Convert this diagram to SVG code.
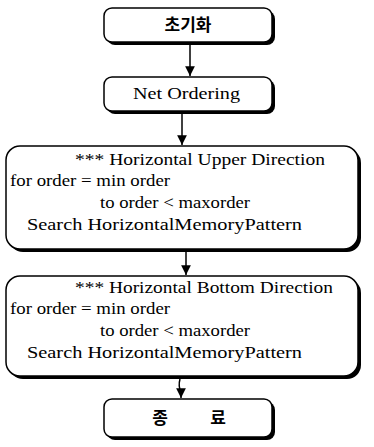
<svg xmlns="http://www.w3.org/2000/svg" width="374" height="447" viewBox="0 0 374 447">
<style>
.sh{fill:#000}
.bx{fill:#fff;stroke:#000;stroke-width:1.5}
.t{font-family:"Liberation Serif","Times New Roman",serif;font-size:16px;fill:#000}
.k{font-family:"Noto Sans CJK KR","Noto Sans",sans-serif;font-size:17px;font-weight:bold;fill:#000}
.c{fill:none;stroke:#000;stroke-width:1.5}
</style>
<defs>
<marker id="ah" viewBox="0 0 10 10" refX="10" refY="5" markerWidth="6.5" markerHeight="6.5" orient="auto">
<path d="M0,0 L10,5 L0,10 z" fill="#000"/>
</marker>
</defs>
<rect width="374" height="447" fill="#fff"/>
<g id="connectors">
<path class="c" d="M190,45 L190,76" marker-end="url(#ah)"/>
<path class="c" d="M182,114 L182,145" marker-end="url(#ah)"/>
<path class="c" d="M186,252 L186,275" marker-end="url(#ah)"/>
<path class="c" d="M180,379 Q178,386 181,392 L181,398" marker-end="url(#ah)"/>
</g>
<g id="init">
<rect class="sh" x="107" y="11" width="168" height="34" rx="8"/>
<rect class="bx" x="104" y="8" width="168" height="34" rx="8"/>
<text class="k" x="188" y="31" text-anchor="middle">초기화</text>
</g>
<g id="net-ordering">
<rect class="sh" x="107" y="80" width="168" height="34" rx="8"/>
<rect class="bx" x="104" y="77" width="168" height="34" rx="8"/>
<text class="t" x="133" y="99" textLength="107" lengthAdjust="spacingAndGlyphs">Net Ordering</text>
</g>
<g id="upper">
<rect class="sh" x="9" y="149" width="352" height="103" rx="14"/>
<rect class="bx" x="6" y="146" width="352" height="103" rx="14"/>
<text class="t" x="75" y="165" textLength="250" lengthAdjust="spacingAndGlyphs">*** Horizontal Upper Direction</text>
<text class="t" x="10" y="186" textLength="160" lengthAdjust="spacingAndGlyphs">for order = min order</text>
<text class="t" x="100" y="208" textLength="150" lengthAdjust="spacingAndGlyphs">to order &lt; maxorder</text>
<text class="t" x="27" y="230" textLength="275" lengthAdjust="spacingAndGlyphs">Search HorizontalMemoryPattern</text>
</g>
<g id="bottom">
<rect class="sh" x="9" y="279" width="352" height="100" rx="14"/>
<rect class="bx" x="6" y="276" width="352" height="100" rx="14"/>
<text class="t" x="75" y="293" textLength="258" lengthAdjust="spacingAndGlyphs">*** Horizontal Bottom Direction</text>
<text class="t" x="10" y="314" textLength="160" lengthAdjust="spacingAndGlyphs">for order = min order</text>
<text class="t" x="100" y="336" textLength="150" lengthAdjust="spacingAndGlyphs">to order &lt; maxorder</text>
<text class="t" x="27" y="358" textLength="275" lengthAdjust="spacingAndGlyphs">Search HorizontalMemoryPattern</text>
</g>
<g id="end">
<rect class="sh" x="107" y="402" width="168" height="38" rx="8"/>
<rect class="bx" x="104" y="399" width="168" height="38" rx="8"/>
<text class="k" x="160" y="424" text-anchor="middle">종</text>
<text class="k" x="218" y="424" text-anchor="middle">료</text>
</g>
</svg>
